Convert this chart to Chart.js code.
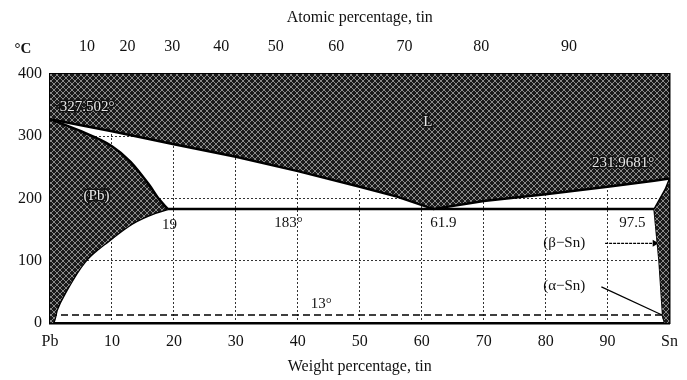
<!DOCTYPE html>
<html>
<head>
<meta charset="utf-8">
<script src="https://cdn.jsdelivr.net/npm/chart.js@4/dist/chart.umd.min.js"></script>
<style>
  html, body { margin: 0; padding: 0; background: #fff; }
</style>
</head>
<body>
<canvas id="phase" width="687" height="380"></canvas>
<script>
// axis ticks
const weightTicks = [0, 10, 20, 30, 40, 50, 60, 70, 80, 90, 100];
const atomicTicks = [10, 20, 30, 40, 50, 60, 70, 80, 90];
const tempTicks = [0, 100, 200, 300, 400];

// phase boundaries, [wt% Sn, °C]
const liquidus = [[0, 327.5], [10, 308], [20, 287], [30, 267], [40, 244], [50, 219], [56, 203], [61.9, 183],
                  [70, 196], [80, 207], [90, 219], [97.5, 228.5], [100, 231.97]];
const pbSolidus = [[0, 327.5], [5, 308], [10, 284], [13, 259], [16, 222], [17.6, 199], [19, 183]];
const pbSolvus = [[0, 0], [0.5, 0], [1.1, 21], [2.7, 53], [5.6, 98], [9.6, 133], [13.3, 160], [17, 177], [19, 183]];
const snSolidus = [[97.5, 183], [99.3, 215], [100, 232]];
const snSolvus = [[97.5, 183], [98.3, 100], [98.9, 10], [99.2, 0], [100, 0]];
const eutectic = [[19, 183], [97.5, 183]];
const alphaBeta = [[0, 13], [100, 13]];
const betaArrow = [[89.6, 128], [97.6, 128]];
const alphaArrow = [[89, 58], [99.4, 10]];

// text notes: text, wt%, °C, on dark fill?
const notes = [
    ['327.502°', 6, 347, true],
    ['L', 61, 323, true],
    ['231.9681°', 92.5, 257, true],
    ['(Pb)', 7.5, 204, true],
    ['19', 19.3, 157, false],
    ['183°', 38.5, 160, false],
    ['61.9', 63.5, 160, false],
    ['97.5', 94, 160, false],
    ['13°', 43.8, 31, false],
    ['(β−Sn)', 83, 129, false],
    ['(α−Sn)', 83, 60, false]
];

const M_SN = 118.71, M_PB = 207.2;
const atomicToWeight = a => 100 * a * M_SN / (a * M_SN + (100 - a) * M_PB);

const serif = '"Liberation Serif", "DejaVu Serif", serif';
const tickFont = { family: serif, size: 16 };
const toXY = pts => pts.map(p => ({ x: p[0], y: p[1] }));

// dark crosshatch like the printed screen
function hatch() {
    const c = document.createElement('canvas');
    c.width = 6; c.height = 6;
    const g = c.getContext('2d');
    g.fillStyle = '#1a1a1a';
    g.fillRect(0, 0, 6, 6);
    g.fillStyle = '#8a8a8a';
    for (let i = 0; i < 6; i++) {
        g.fillRect(i, i, 1, 1);
        g.fillRect(i, 5 - i, 1, 1);
    }
    return g.createPattern(c, 'repeat');
}
const fillPattern = hatch();

function arrowRotation(ctx) {
    const d = ctx.dataset.data;
    const xs = ctx.chart.scales.x, ys = ctx.chart.scales.y;
    const dx = xs.getPixelForValue(d[1].x) - xs.getPixelForValue(d[0].x);
    const dy = ys.getPixelForValue(d[1].y) - ys.getPixelForValue(d[0].y);
    return Math.atan2(dy, dx) * 180 / Math.PI + 90;
}

const notesPlugin = {
    id: 'notes',
    afterDatasetsDraw(chart) {
        const { ctx, chartArea } = chart;
        const xs = chart.scales.x, ys = chart.scales.y;
        ctx.save();
        ctx.textAlign = 'center';
        ctx.textBaseline = 'middle';
        notes.forEach(([text, wt, t, dark]) => {
            const px = xs.getPixelForValue(wt), py = ys.getPixelForValue(t);
            ctx.font = '15px ' + serif;
            if (dark) {
                ctx.lineWidth = 3;
                ctx.strokeStyle = '#111';
                ctx.strokeText(text, px, py);
                ctx.fillStyle = '#e8e8e8';
            } else {
                ctx.fillStyle = '#111';
            }
            ctx.fillText(text, px, py);
        });
        // unit label above the temperature axis
        ctx.font = 'bold 15px ' + serif;
        ctx.fillStyle = '#111';
        ctx.fillText('°C', chartArea.left - 27, chartArea.top - 25);
        ctx.restore();
    }
};

const line = (pts, extra) => Object.assign({
    data: toXY(pts),
    showLine: true,
    borderColor: '#000',
    borderWidth: 2.5,
    pointRadius: 0,
    fill: false
}, extra);

new Chart(document.getElementById('phase'), {
    type: 'scatter',
    data: {
        datasets: [
            line(liquidus, { fill: 'end', backgroundColor: fillPattern }),
            line(pbSolidus, { fill: '+1', backgroundColor: fillPattern, cubicInterpolationMode: 'monotone' }),
            line(pbSolvus, { cubicInterpolationMode: 'monotone' }),
            line(snSolidus, { fill: '+1', backgroundColor: fillPattern, borderWidth: 1.5 }),
            line(snSolvus, { borderWidth: 1.5 }),
            line(eutectic),
            line(alphaBeta, { borderWidth: 1.5, borderDash: [7, 4] }),
            line(betaArrow, { borderWidth: 1.2, borderDash: [3, 1], pointRadius: [0, 4], pointStyle: 'triangle',
                              pointBackgroundColor: '#000', pointBorderWidth: 0, pointRotation: arrowRotation }),
            line(alphaArrow, { borderWidth: 1.2, pointRadius: [0, 4], pointStyle: 'triangle',
                               pointBackgroundColor: '#000', pointBorderWidth: 0, pointRotation: arrowRotation })
        ]
    },
    options: {
        responsive: false,
        animation: false,
        events: [],
        layout: { padding: { left: 0, right: 12, top: 0, bottom: 0 } },
        plugins: { legend: { display: false }, tooltip: { enabled: false } },
        scales: {
            x: {
                type: 'linear', position: 'bottom', min: 0, max: 100,
                afterBuildTicks: s => { s.ticks = weightTicks.map(v => ({ value: v })); },
                ticks: {
                    font: tickFont, color: '#111', padding: 9, maxRotation: 0, autoSkip: false,
                    callback: v => v === 0 ? 'Pb' : v === 100 ? 'Sn' : v
                },
                grid: {
                    drawTicks: false, lineWidth: 1,
                    color: c => (c.tick && (c.tick.value === 0 || c.tick.value === 100)) ? 'rgba(0,0,0,0)' : '#333'
                },
                border: { color: '#000', width: 2.5, dash: [2, 2] },
                title: { display: true, text: 'Weight percentage, tin', font: tickFont, color: '#111',
                         padding: { top: 2, bottom: 4 } },
                afterFit: a => { a.height = 57; }
            },
            x2: {
                type: 'linear', position: 'top', min: 0, max: 100,
                afterBuildTicks: s => { s.ticks = atomicTicks.map(a => ({ value: atomicToWeight(a) })); },
                ticks: { font: tickFont, color: '#111', padding: 10, maxRotation: 0, autoSkip: false,
                         callback: (v, i) => atomicTicks[i] },
                grid: { display: false },
                border: { color: '#000', width: 2 },
                title: { display: true, text: 'Atomic percentage, tin', font: tickFont, color: '#111',
                         padding: { top: 8, bottom: 4 } },
                afterFit: a => { a.height = 74; }
            },
            y: {
                type: 'linear', min: 0, max: 400,
                afterBuildTicks: s => { s.ticks = tempTicks.map(v => ({ value: v })); },
                ticks: { font: tickFont, color: '#111', padding: 8 },
                grid: {
                    drawTicks: false, lineWidth: 1,
                    color: c => (c.tick && (c.tick.value === 0 || c.tick.value === 400)) ? 'rgba(0,0,0,0)' : '#333'
                },
                border: { color: '#000', width: 2, dash: [2, 2] },
                afterFit: a => { a.width = 50; }
            },
            y2: {
                type: 'linear', position: 'right', min: 0, max: 400,
                ticks: { display: false },
                grid: { display: false },
                border: { color: '#000', width: 1.5 },
                afterFit: a => { a.width = 0; }
            }
        }
    },
    plugins: [notesPlugin]
});
</script>
</body>
</html>
